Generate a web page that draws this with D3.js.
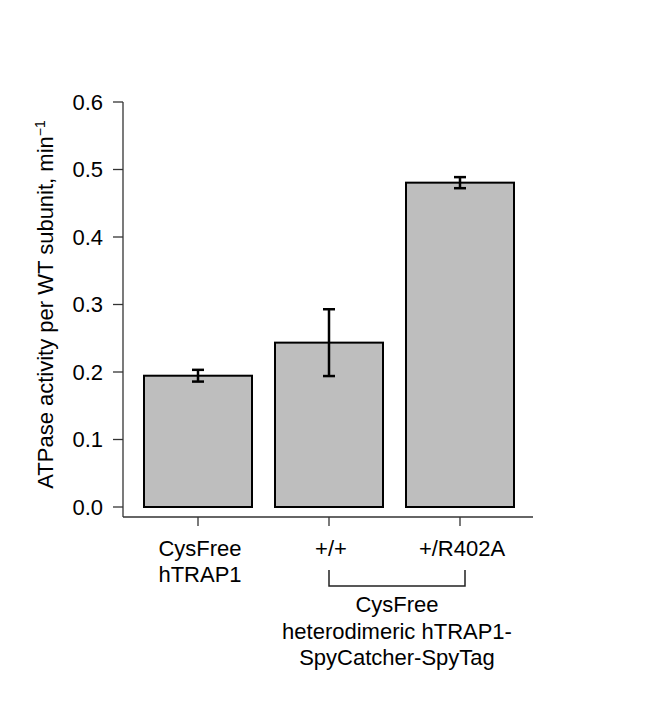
<!DOCTYPE html>
<html lang="en">
<head>
  <meta charset="UTF-8">
  <title>ATPase activity per WT subunit</title>
  <script src="https://d3js.org/d3.v7.min.js"></script>
  <style>
    body {
      margin: 0;
      background: #fff;
      font-family: "Liberation Sans", Arial, Helvetica, sans-serif;
    }
    svg {
      display: block;
    }
  </style>
</head>
<body>
  <div id="chart"></div>

  <script>
    // values
    const categories = ["CysFree|hTRAP1", "+/+", "+/R402A"];
    const means = [0.1945, 0.2435, 0.4805];
    const errors = [0.0087, 0.0495, 0.0082];
    const yTicks = [0.0, 0.1, 0.2, 0.3, 0.4, 0.5, 0.6];
    const groupLabel = ["CysFree", "heterodimeric hTRAP1-", "SpyCatcher-SpyTag"];

    const width = 661;
    const height = 709;

    const svg = d3.select("#chart")
      .append("svg")
      .attr("width", width)
      .attr("height", height);

    const x = d3.scaleBand()
      .domain(categories)
      .range([132.5, 525.5])
      .paddingInner(0.1756)
      .paddingOuter(0.0878);

    const y = d3.scaleLinear()
      .domain([0, 0.6])
      .range([507, 102]);

    const axisColor = "#333";
    const axisBottom = 517;
    const axisLeft = 123;

    // y axis
    svg.append("line")
      .attr("x1", axisLeft).attr("x2", axisLeft)
      .attr("y1", y(0.6)).attr("y2", axisBottom)
      .attr("stroke", axisColor).attr("stroke-width", 1.3);

    svg.selectAll(".ytick")
      .data(yTicks)
      .enter()
      .append("line")
      .attr("x1", axisLeft - 10).attr("x2", axisLeft)
      .attr("y1", d => y(d)).attr("y2", d => y(d))
      .attr("stroke", axisColor).attr("stroke-width", 1.3);

    svg.selectAll(".ylabel")
      .data(yTicks)
      .enter()
      .append("text")
      .attr("x", axisLeft - 20)
      .attr("y", d => y(d))
      .attr("dy", "0.36em")
      .attr("text-anchor", "end")
      .style("font-size", "22px")
      .text(d => d3.format(".1f")(d));

    // x axis
    svg.append("line")
      .attr("x1", axisLeft).attr("x2", 533)
      .attr("y1", axisBottom).attr("y2", axisBottom)
      .attr("stroke", axisColor).attr("stroke-width", 1.3);

    svg.selectAll(".xtick")
      .data(categories)
      .enter()
      .append("line")
      .attr("x1", d => x(d) + x.bandwidth() / 2)
      .attr("x2", d => x(d) + x.bandwidth() / 2)
      .attr("y1", axisBottom).attr("y2", axisBottom + 9)
      .attr("stroke", axisColor).attr("stroke-width", 1.3);

    // bars
    svg.selectAll(".bar")
      .data(categories)
      .enter()
      .append("rect")
      .attr("x", d => x(d))
      .attr("y", (d, i) => y(means[i]))
      .attr("width", x.bandwidth())
      .attr("height", (d, i) => y(0) - y(means[i]))
      .attr("fill", "#bebebe")
      .attr("stroke", "#000")
      .attr("stroke-width", 2);

    // error bars
    const err = svg.append("g")
      .attr("stroke", "#000")
      .attr("stroke-width", 2.5);

    categories.forEach((c, i) => {
      const cx = x(c) + x.bandwidth() / 2;
      const lo = y(means[i] - errors[i]);
      const hi = y(means[i] + errors[i]);
      err.append("line").attr("x1", cx).attr("x2", cx).attr("y1", lo).attr("y2", hi);
      err.append("line").attr("x1", cx - 6).attr("x2", cx + 6).attr("y1", lo).attr("y2", lo);
      err.append("line").attr("x1", cx - 6).attr("x2", cx + 6).attr("y1", hi).attr("y2", hi);
    });

    // category labels
    categories.forEach(c => {
      const t = svg.append("text")
        .attr("text-anchor", "middle")
        .style("font-size", "22px");
      c.split("|").forEach((line, j) => {
        t.append("tspan")
          .attr("x", x(c) + x.bandwidth() / 2 + 2)
          .attr("y", 556 + j * 26)
          .text(line);
      });
    });

    // bracket under the two heterodimer bars
    const bx1 = x(categories[1]) + x.bandwidth() / 2;
    const bx2 = x(categories[2]) + x.bandwidth() / 2 + 5;
    svg.append("path")
      .attr("d", `M${bx1},570V586H${bx2}V570`)
      .attr("fill", "none")
      .attr("stroke", "#222")
      .attr("stroke-width", 1.5);

    const g = svg.append("text")
      .attr("text-anchor", "middle")
      .style("font-size", "22px");
    groupLabel.forEach((line, j) => {
      g.append("tspan")
        .attr("x", (bx1 + bx2) / 2)
        .attr("y", 612 + j * 26.5)
        .text(line);
    });

    // y axis title
    const yt = svg.append("text")
      .attr("transform", `translate(53, ${(y(0) + y(0.6)) / 2}) rotate(-90)`)
      .attr("text-anchor", "middle")
      .style("font-size", "22px");
    yt.append("tspan").text("ATPase activity per WT subunit, min");
    yt.append("tspan")
      .attr("dy", "-0.55em")
      .style("font-size", "14px")
      .text("\u22121");
  </script>
</body>
</html>
